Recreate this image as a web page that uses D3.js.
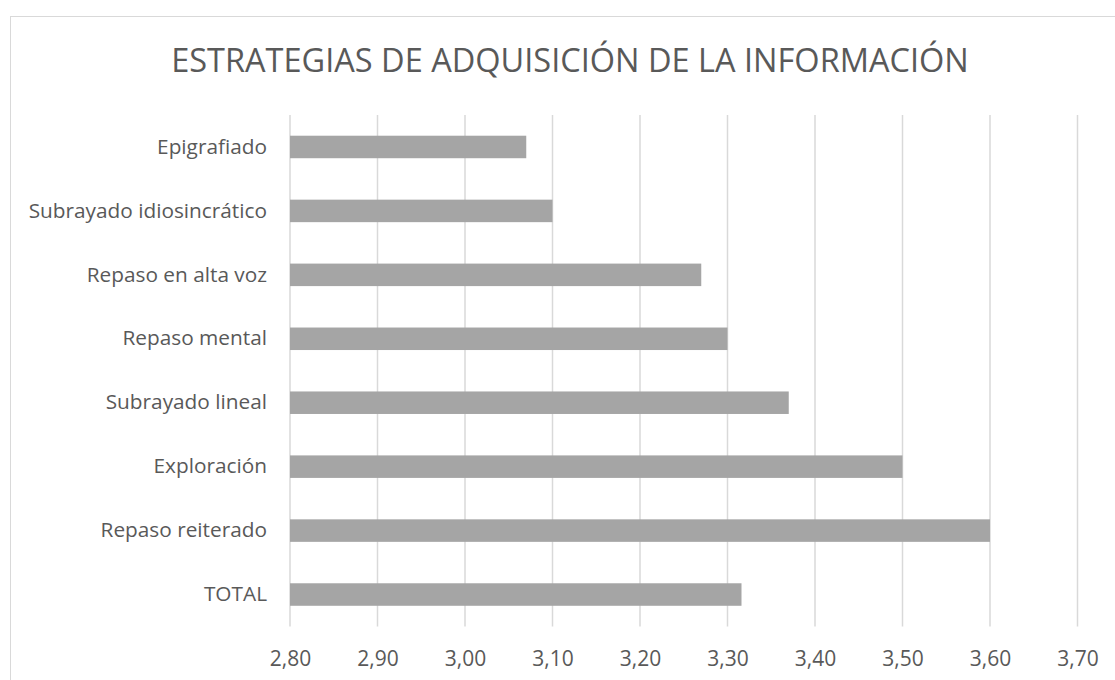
<!DOCTYPE html>
<html>
<head>
<meta charset="utf-8">
<script src="https://cdn.jsdelivr.net/npm/d3@7"></script>
<style>
  html, body { margin: 0; padding: 0; background: #fff; }
  svg { display: block; }
  text { font-family: "Open Sans", "Noto Sans", sans-serif; fill: #595959; }
</style>
</head>
<body>
<svg id="chart" width="1115" height="680"></svg>
<script>
const title = "ESTRATEGIAS DE ADQUISICIÓN DE LA INFORMACIÓN";
const categories = ["Epigrafiado", "Subrayado idiosincrático", "Repaso en alta voz", "Repaso mental ", "Subrayado lineal", "Exploración", "Repaso reiterado", "TOTAL"];
const values = [3.07, 3.10, 3.27, 3.30, 3.37, 3.50, 3.60, 3.316];
const xTicks = [2.8, 2.9, 3.0, 3.1, 3.2, 3.3, 3.4, 3.5, 3.6, 3.7];

const svg = d3.select("#chart");
const margin = { left: 290, right: 1115 - 1077.5, top: 115, bottom: 680 - 626.5 };

// chart border
svg.append("rect")
  .attr("x", 10.5).attr("y", 16.5)
  .attr("width", 1200).attr("height", 800)
  .attr("fill", "#fff").attr("stroke", "#d9d9d9").attr("stroke-width", 1);

const x = d3.scaleLinear().domain([2.8, 3.7]).range([margin.left, 1115 - margin.right]);
const y = d3.scaleBand().domain(categories).range([margin.top, 680 - margin.bottom]).paddingInner(0.648).paddingOuter(0.324);

// gridlines
svg.append("g")
  .selectAll("line").data(xTicks).join("line")
  .attr("x1", d => x(d)).attr("x2", d => x(d))
  .attr("y1", margin.top).attr("y2", 680 - margin.bottom)
  .attr("stroke", "#d9d9d9").attr("stroke-width", 1.5);

// bars
svg.append("g")
  .selectAll("rect").data(values).join("rect")
  .attr("x", x(2.8))
  .attr("y", (d, i) => y(categories[i]))
  .attr("width", d => x(d) - x(2.8))
  .attr("height", y.bandwidth())
  .attr("fill", "#a5a5a5");

// x axis labels
const xAxis = d3.axisBottom(x).tickValues(xTicks).tickSize(0).tickPadding(0)
  .tickFormat(d => d3.format(".2f")(d).replace(".", ","));
const gx = svg.append("g").attr("transform", `translate(0, ${680 - margin.bottom})`).call(xAxis);
gx.select(".domain").remove();
gx.selectAll("text").attr("font-size", 21).attr("dy", null).attr("y", 39.5).style("fill", "#595959").attr("font-family", null);

// y axis labels
const yAxis = d3.axisLeft(y).tickSize(0).tickPadding(23);
const gy = svg.append("g").attr("transform", `translate(${margin.left}, 0)`).call(yAxis);
gy.select(".domain").remove();
gy.selectAll("text").attr("font-size", 20.8).style("fill", "#595959").attr("font-family", null);

// title
svg.append("text")
  .attr("x", 570).attr("y", 72)
  .attr("text-anchor", "middle")
  .attr("font-size", 32.5)
  .text(title);
</script>
</body>
</html>
